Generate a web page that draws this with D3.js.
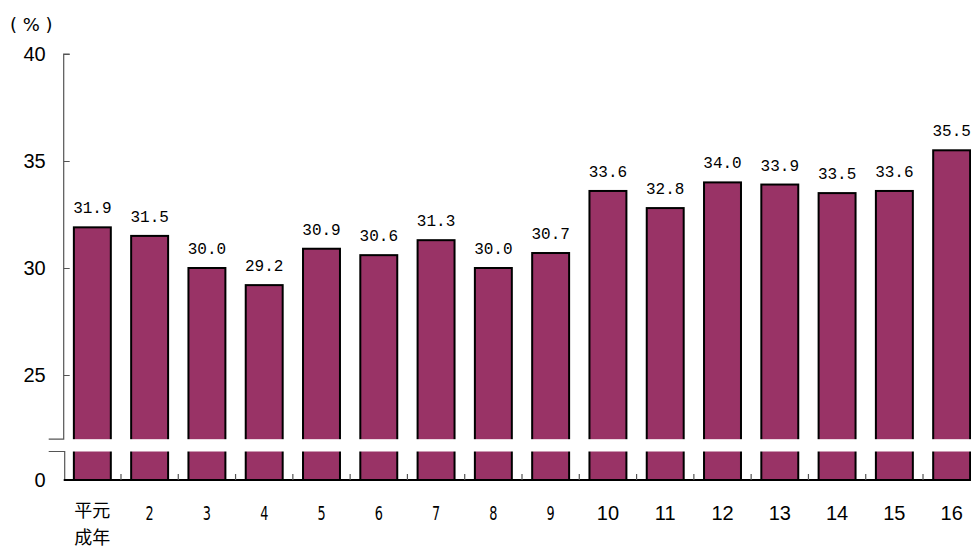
<!DOCTYPE html>
<html>
<head>
<meta charset="utf-8" />
<script src="https://d3js.org/d3.v7.min.js"></script>
<style>
  body { margin: 0; background: #fff; }
  text { font-family: "Liberation Sans", Arial, sans-serif; fill: #000; }
</style>
</head>
<body>
<svg id="chart"></svg>
<script>
var years = ['平元', '2', '3', '4', '5', '6', '7', '8', '9', '10', '11', '12', '13', '14', '15', '16']
var values = [31.9, 31.5, 30.0, 29.2, 30.9, 30.6, 31.3, 30.0, 30.7, 33.6, 32.8, 34.0, 33.9, 33.5, 33.6, 35.5]
var yTicks = [25, 30, 35, 40]

var W = 971, H = 548
var left = 63.7, right = 980.3
var baseY = 480, breakTop = 439.2, breakBot = 451.5

var svg = d3.select('#chart').attr('width', W).attr('height', H)

var x = d3.scaleBand()
    .domain(d3.range(years.length))
    .range([left, right])
    .paddingInner(0.355)
    .paddingOuter(0.1775)

// upper part of the broken axis
var y = d3.scaleLinear().domain([22, 40]).range([breakTop, 54])

// bars
svg.append('g').selectAll('rect')
    .data(values)
    .join('rect')
    .attr('x', (d, i) => x(i))
    .attr('y', d => y(d))
    .attr('width', x.bandwidth())
    .attr('height', d => baseY - y(d))
    .attr('fill', '#993366')
    .attr('stroke', '#000')
    .attr('stroke-width', 2)

// white break band
svg.append('rect')
    .attr('x', left + 1)
    .attr('y', breakTop)
    .attr('width', W)
    .attr('height', breakBot - breakTop)
    .attr('fill', '#fff')

// value labels
svg.append('g').selectAll('text')
    .data(values)
    .join('text')
    .attr('x', (d, i) => x(i) + x.bandwidth() / 2)
    .attr('y', d => y(d) - 14)
    .attr('text-anchor', 'middle')
    .style('font-family', '"Liberation Mono", "DejaVu Sans Mono", monospace')
    .style('font-size', '16px')
    .text(d => d.toFixed(1))

// y axis (upper)
var yAxis = d3.axisLeft(y).tickValues(yTicks).tickSizeInner(-6).tickSizeOuter(-6).tickPadding(18)
var gy = svg.append('g').attr('transform', `translate(${left},0)`).call(yAxis)
gy.select('.domain').remove()
gy.selectAll('.tick line').attr('stroke', '#555')
gy.selectAll('.tick text').style('font-size', '20px').style('font-family', '"Liberation Sans", Arial, sans-serif')

var axisColor = '#555'
// upper axis line with top tick
svg.append('path')
    .attr('d', `M${left + 6},54H${left}V${breakTop}H${left - 15}`)
    .attr('fill', 'none').attr('stroke', axisColor).attr('stroke-width', 1.2)
// lower axis piece
svg.append('path')
    .attr('d', `M${left - 15},${breakBot}H${left + 1}V${baseY}`)
    .attr('fill', 'none').attr('stroke', axisColor).attr('stroke-width', 1.2)

// zero label
svg.append('text')
    .attr('x', left - 18)
    .attr('y', baseY)
    .attr('dy', '0.35em')
    .attr('text-anchor', 'end')
    .style('font-size', '20px')
    .text('0')

// baseline
svg.append('line')
    .attr('x1', left).attr('x2', right)
    .attr('y1', baseY).attr('y2', baseY)
    .attr('stroke', '#000').attr('stroke-width', 2)

// category separator ticks
svg.append('g').selectAll('line')
    .data(d3.range(1, years.length))
    .join('line')
    .attr('x1', i => left + i * x.step())
    .attr('x2', i => left + i * x.step())
    .attr('y1', baseY)
    .attr('y2', baseY - 6)
    .attr('stroke', axisColor)
    .attr('stroke-width', 1.2)

// x labels
var gx = svg.append('g')
years.forEach(function (lab, i) {
    var cx = x(i) + x.bandwidth() / 2
    if (i === 0) {
        gx.append('text').attr('x', cx).attr('y', 517).attr('text-anchor', 'middle')
            .style('font-family', '"Noto Sans CJK JP", sans-serif').style('font-size', '18px').text('平元')
        gx.append('text').attr('x', cx).attr('y', 544).attr('text-anchor', 'middle')
            .style('font-family', '"Noto Sans CJK JP", sans-serif').style('font-size', '18px').text('成年')
    } else if (+lab < 10) {
        gx.append('text').attr('x', cx).attr('y', 520).attr('text-anchor', 'middle')
            .style('font-family', '"DejaVu Sans Condensed", "DejaVu Sans", sans-serif')
            .style('font-stretch', 'condensed')
            .attr('transform', `translate(${cx},0) scale(0.75,1) translate(${-cx},0)`)
            .style('font-size', '19px').text(lab)
    } else {
        gx.append('text').attr('x', cx).attr('y', 520).attr('text-anchor', 'middle')
            .style('font-size', '20px').text(lab)
    }
})

// unit label
svg.append('text')
    .attr('x', 10)
    .attr('y', 31)
    .style('font-family', '"DejaVu Sans", sans-serif')
    .style('font-size', '18px')
    .text('( % )')
</script>
</body>
</html>
